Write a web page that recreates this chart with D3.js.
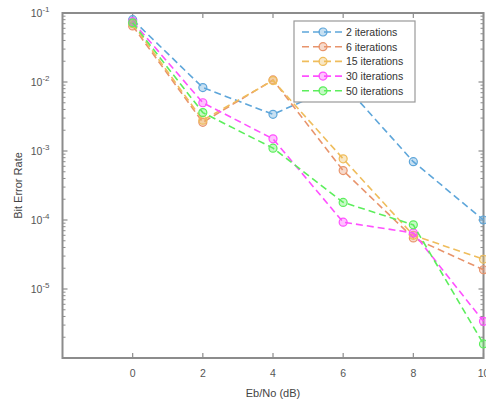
<!DOCTYPE html>
<html>
<head>
<meta charset="utf-8">
<script src="https://cdn.jsdelivr.net/npm/d3@7"></script>
<style>
    body { margin: 0; background: white; }
    text { font-family: "Liberation Sans", Arial, sans-serif; }
</style>
</head>
<body>
<svg id="chart"></svg>
<script>
// svg width height
const viewWidth = 486;
const viewHeight = 403;

// data
const ebno = [0, 2, 4, 6, 8, 10];
const seriesNames = ["2 iterations", "6 iterations", "15 iterations", "30 iterations", "50 iterations"];
const seriesColors = ["#5ea6da", "#e8946c", "#efbd5c", "#ff50ff", "#5cee5c"];
const ber2 = [0.08, 8.3e-3, 3.4e-3, 9.5e-3, 7e-4, 1e-4];
const ber6 = [0.065, 2.6e-3, 1.07e-2, 5.2e-4, 5.5e-5, 1.9e-5];
const ber15 = [0.07, 2.8e-3, 1.05e-2, 7.7e-4, 6e-5, 2.7e-5];
const ber30 = [0.075, 5e-3, 1.5e-3, 9.3e-5, 6.5e-5, 3.4e-6];
const ber50 = [0.072, 3.6e-3, 1.1e-3, 1.8e-4, 8.5e-5, 1.6e-6];
const allBer = [ber2, ber6, ber15, ber30, ber50];
const xTicks = [0, 2, 4, 6, 8, 10];
const yTicks = [1e-1, 1e-2, 1e-3, 1e-4, 1e-5];

// plot area
const plotLeft = 62.5, plotRight = 483.5, plotTop = 13, plotBottom = 358;
const axisColor = "#8c8c8c";

const svg = d3.select("#chart")
    .attr("width", viewWidth)
    .attr("height", viewHeight);

const xScale = d3.scaleLinear().domain([-2, 10]).range([plotLeft, plotRight]);
const yScale = d3.scaleLog().domain([1e-6, 1e-1]).range([plotBottom, plotTop]);

// minor ticks for log axis
const minorTicks = [];
for (let e = -6; e < -1; e++) {
    for (let m = 2; m <= 9; m++) minorTicks.push(m * Math.pow(10, e));
}

const grid = svg.append("g");

// minor y ticks left and right
grid.selectAll("line.minor")
    .data(minorTicks.flatMap(v => [[plotLeft, v, 1], [plotRight, v, -1]]))
    .enter()
    .append("line")
    .attr("x1", d => d[0])
    .attr("x2", d => d[0] + d[2] * 3)
    .attr("y1", d => yScale(d[1]))
    .attr("y2", d => yScale(d[1]))
    .attr("stroke", axisColor)
    .attr("stroke-width", 1);

// major y ticks left and right
grid.selectAll("line.ymajor")
    .data(yTicks.flatMap(v => [[plotLeft, v, 1], [plotRight, v, -1]]))
    .enter()
    .append("line")
    .attr("x1", d => d[0])
    .attr("x2", d => d[0] + d[2] * 5)
    .attr("y1", d => yScale(d[1]))
    .attr("y2", d => yScale(d[1]))
    .attr("stroke", axisColor)
    .attr("stroke-width", 1.2);

// x ticks bottom and top
grid.selectAll("line.xmajor")
    .data(xTicks.flatMap(v => [[plotBottom, v, -1], [plotTop, v, 1]]))
    .enter()
    .append("line")
    .attr("x1", d => xScale(d[1]))
    .attr("x2", d => xScale(d[1]))
    .attr("y1", d => d[0])
    .attr("y2", d => d[0] + d[2] * 5)
    .attr("stroke", axisColor)
    .attr("stroke-width", 1.2);

// box
svg.append("rect")
    .attr("x", plotLeft)
    .attr("y", plotTop)
    .attr("width", plotRight - plotLeft)
    .attr("height", plotBottom - plotTop)
    .attr("fill", "none")
    .attr("stroke", axisColor)
    .attr("stroke-width", 2);

// x tick labels
svg.selectAll("text.xlabel")
    .data(xTicks)
    .enter()
    .append("text")
    .attr("x", d => xScale(d))
    .attr("y", plotBottom + 19)
    .attr("text-anchor", "middle")
    .attr("font-size", 10.5)
    .attr("fill", "#555")
    .text(d => d);

// y tick labels 10^n
const yLab = svg.selectAll("text.ylabel")
    .data(yTicks)
    .enter()
    .append("text")
    .attr("x", plotLeft - 13)
    .attr("y", d => yScale(d) + 4)
    .attr("text-anchor", "end")
    .attr("font-size", 10.5)
    .attr("fill", "#555");
yLab.append("tspan").text("10");
yLab.append("tspan")
    .attr("dy", -5)
    .attr("font-size", 8)
    .text(d => "-" + Math.round(-Math.log10(d)));

// axis titles
svg.append("text")
    .attr("x", (plotLeft + plotRight) / 2)
    .attr("y", 397)
    .attr("text-anchor", "middle")
    .attr("font-size", 11)
    .attr("fill", "#444")
    .text("Eb/No (dB)");

svg.append("text")
    .attr("transform", `translate(22, ${(plotTop + plotBottom) / 2}) rotate(-90)`)
    .attr("text-anchor", "middle")
    .attr("font-size", 11)
    .attr("fill", "#444")
    .text("Bit Error Rate");

// lines and markers
const line = d3.line()
    .x((d, i) => xScale(ebno[i]))
    .y(d => yScale(d));

const series = svg.selectAll("g.series")
    .data(allBer)
    .enter()
    .append("g")
    .attr("class", "series");

series.append("path")
    .attr("d", d => line(d))
    .attr("fill", "none")
    .attr("stroke", (d, i) => seriesColors[i])
    .attr("stroke-width", 1.6)
    .attr("stroke-dasharray", "7,4");

series.each(function(d, i) {
    d3.select(this).selectAll("circle")
        .data(d)
        .enter()
        .append("circle")
        .attr("cx", (v, j) => xScale(ebno[j]))
        .attr("cy", v => yScale(v))
        .attr("r", 4)
        .attr("fill", seriesColors[i])
        .attr("fill-opacity", 0.35)
        .attr("stroke", seriesColors[i])
        .attr("stroke-width", 1.2);
});

// legend
const legend = svg.append("g");
legend.append("rect")
    .attr("x", 294)
    .attr("y", 21)
    .attr("width", 121)
    .attr("height", 81)
    .attr("fill", "white")
    .attr("stroke", "#999")
    .attr("stroke-width", 1.2);

const entry = legend.selectAll("g.entry")
    .data(seriesNames)
    .enter()
    .append("g")
    .attr("transform", (d, i) => `translate(0, ${32 + i * 14.7})`);

entry.append("line")
    .attr("x1", 302)
    .attr("x2", 343)
    .attr("stroke", (d, i) => seriesColors[i])
    .attr("stroke-width", 1.6)
    .attr("stroke-dasharray", "7,4");

entry.append("circle")
    .attr("cx", 323)
    .attr("r", 4)
    .attr("fill", (d, i) => seriesColors[i])
    .attr("fill-opacity", 0.35)
    .attr("stroke", (d, i) => seriesColors[i])
    .attr("stroke-width", 1.2);

entry.append("text")
    .attr("x", 346)
    .attr("y", 3.8)
    .attr("font-size", 10.5)
    .attr("fill", "#333")
    .text(d => d);
</script>
</body>
</html>
